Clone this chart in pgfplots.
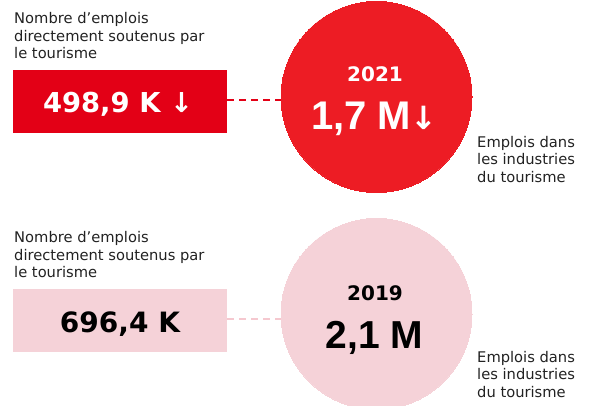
\documentclass[border=0pt]{standalone}
\usepackage{pgfplots}
\pgfplotsset{compat=1.18}
\usepackage{fontspec}
\setmainfont{DejaVu Sans}
\newfontfamily\lib{Liberation Sans}
\definecolor{rectred}{HTML}{E30016}
\definecolor{circred}{HTML}{ED1C24}
\definecolor{pinkc}{HTML}{F5D2D8}
\definecolor{pinkd}{HTML}{F5C8CF}
\definecolor{labc}{HTML}{222222}
\begin{document}
\begin{tikzpicture}
\begin{axis}[
  scale only axis, width=593pt, height=406pt,
  xmin=0, xmax=593, ymin=0, ymax=406, y dir=reverse,
  hide axis, clip marker paths=true,
]
% rectangles (value boxes)
\addplot[fill=rectred, draw=none] coordinates {(13,70) (227,70) (227,133) (13,133)} -- cycle;
\addplot[fill=pinkc, draw=none] coordinates {(13,289) (227,289) (227,352) (13,352)} -- cycle;
% dashed connectors
\addplot[rectred, line width=2pt, dash pattern=on 7pt off 5pt] coordinates {(227,100) (282,100)};
\addplot[pinkd, line width=2pt, dash pattern=on 7pt off 5pt] coordinates {(227,319) (282,319)};
% circles
\addplot[only marks, color=circred, mark=*, mark size=95.5pt, mark options={fill=circred, draw=circred, line width=0pt}] coordinates {(376.5,97)};
\addplot[only marks, color=pinkc, mark=*, mark size=95.5pt, mark options={fill=pinkc, draw=pinkc, line width=0pt}] coordinates {(376.5,314)};

% labels top
\node[anchor=base west, text=labc, font=\fontsize{14.7}{17.5}\selectfont, inner sep=0pt] at (axis cs:14,23.3) {Nombre d’emplois};
\node[anchor=base west, text=labc, font=\fontsize{14.7}{17.5}\selectfont, inner sep=0pt] at (axis cs:14,41.3) {directement soutenus par};
\node[anchor=base west, text=labc, font=\fontsize{14.7}{17.5}\selectfont, inner sep=0pt] at (axis cs:14,58.8) {le tourisme};
\node[anchor=base, text=white, font=\bfseries\fontsize{27.4}{30}\selectfont, inner sep=0pt] at (axis cs:118,113) {498,9 K ↓};
\node[anchor=base, text=white, font=\bfseries\fontsize{20}{22}\selectfont, inner sep=0pt] at (axis cs:375,82) {2021};
\node[anchor=base, text=white, font=\bfseries\fontsize{40}{42}\selectfont, inner sep=0pt] at (axis cs:374,130) {{\lib 1,7 M}\kern-1pt{\fontsize{32}{34}\selectfont↓}};
\node[anchor=base west, text=labc, font=\fontsize{14.7}{17.5}\selectfont, inner sep=0pt] at (axis cs:477,147) {Emplois dans};
\node[anchor=base west, text=labc, font=\fontsize{14.7}{17.5}\selectfont, inner sep=0pt] at (axis cs:477,164.5) {les industries};
\node[anchor=base west, text=labc, font=\fontsize{14.7}{17.5}\selectfont, inner sep=0pt] at (axis cs:477,182) {du tourisme};

% labels bottom
\node[anchor=base west, text=labc, font=\fontsize{14.7}{17.5}\selectfont, inner sep=0pt] at (axis cs:14,242.3) {Nombre d’emplois};
\node[anchor=base west, text=labc, font=\fontsize{14.7}{17.5}\selectfont, inner sep=0pt] at (axis cs:14,260) {directement soutenus par};
\node[anchor=base west, text=labc, font=\fontsize{14.7}{17.5}\selectfont, inner sep=0pt] at (axis cs:14,277.5) {le tourisme};
\node[anchor=base, text=black, font=\bfseries\fontsize{28}{30}\selectfont, inner sep=0pt] at (axis cs:120,332) {696,4 K};
\node[anchor=base, text=black, font=\bfseries\fontsize{20}{22}\selectfont, inner sep=0pt] at (axis cs:375,300) {2019};
\node[anchor=base, text=black, font=\bfseries\fontsize{39}{42}\selectfont, inner sep=0pt] at (axis cs:374.5,348) {\lib 2,1 M};
\node[anchor=base west, text=labc, font=\fontsize{14.7}{17.5}\selectfont, inner sep=0pt] at (axis cs:477,362) {Emplois dans};
\node[anchor=base west, text=labc, font=\fontsize{14.7}{17.5}\selectfont, inner sep=0pt] at (axis cs:477,379.5) {les industries};
\node[anchor=base west, text=labc, font=\fontsize{14.7}{17.5}\selectfont, inner sep=0pt] at (axis cs:477,397) {du tourisme};
\end{axis}
\pgfresetboundingbox
\useasboundingbox (current axis.south west) rectangle (current axis.north east);
\end{tikzpicture}
\end{document}
